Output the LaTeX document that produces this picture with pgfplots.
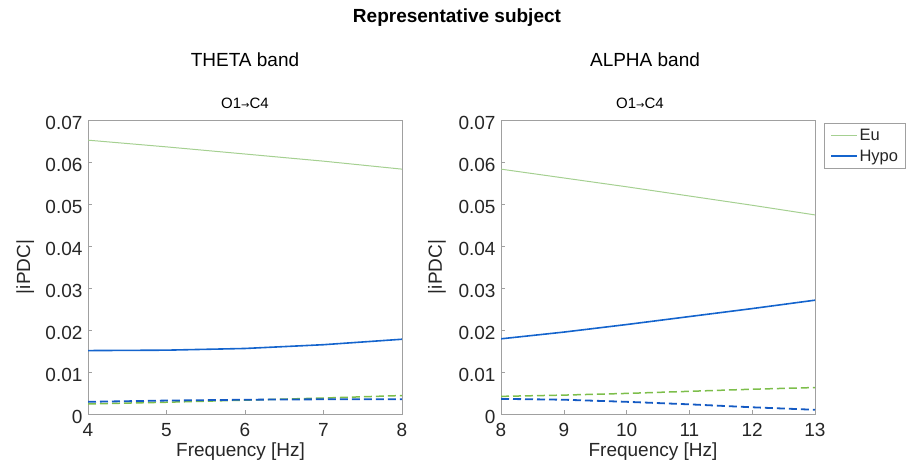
\documentclass[border=0pt]{standalone}
\usepackage{fontspec}
\setmainfont{Liberation Sans}
\newfontfamily\symfont{DejaVu Sans}
\usepackage{pgfplots}
\pgfplotsset{compat=1.18}

\definecolor{euline}{RGB}{165,208,145}
\definecolor{eudash}{RGB}{125,190,75}
\definecolor{hypoline}{RGB}{20,100,205}
\definecolor{hypodash}{RGB}{20,90,195}
\definecolor{boxgray}{RGB}{160,160,160}

\newcommand{\fs}{\fontsize{19bp}{22bp}\selectfont}
\newcommand{\pair}{{\fontsize{15bp}{17bp}\selectfont O1{\symfont\fontsize{10bp}{12bp}\selectfont→}C4}}

\pgfplotsset{
  ipdc/.style={
    scale only axis, width=314bp, height=294bp,
    axis line style={boxgray, line width=0.8bp},
    tick style={boxgray, line width=0.6bp},
    tick align=inside, major tick length=4bp,
    xtick pos=bottom, ytick pos=left,
    ymin=0, ymax=0.07, scaled y ticks=false,
    ytick={0,0.01,0.02,0.03,0.04,0.05,0.06,0.07},
    yticklabels={0,0.01,0.02,0.03,0.04,0.05,0.06,0.07},
    /pgf/number format/assume math mode=true,
    ticklabel style={font=\fs, text=black!85},
    yticklabel style={xshift=-2bp, yshift=-3bp},
    xticklabel style={yshift=-6bp},
    label style={font=\fs, text=black!85},
    ylabel={|iPDC|},
    xlabel={Frequency [Hz]},
  },
  eu/.style={euline, line width=1bp},
  hypo/.style={hypoline, line width=1.6bp},
  eud/.style={eudash, line width=1.5bp, dash pattern=on 8bp off 4bp},
  hypod/.style={hypodash, line width=1.8bp, dash pattern=on 8bp off 4bp},
}

\begin{document}
\begin{tikzpicture}
\useasboundingbox (0,0) rectangle (914bp,467bp);

\node[font=\bfseries\fontsize{19bp}{22bp}\selectfont] at (457bp,449bp) {Representative subject};
\node[font=\fs] at (245bp,407bp) {THETA band};
\node[font=\fs] at (645bp,407bp) {ALPHA band};
\node at (245bp,364bp) {\pair};
\node at (640bp,364bp) {\pair};

\begin{axis}[ipdc, at={(88bp,53bp)}, anchor=south west,
  xmin=4, xmax=8, xtick={4,5,6,7,8},
  ylabel style={at={(axis description cs:-0.2,0.5)}, anchor=center},
  xlabel style={at={(axis description cs:0.486,-0.129)}, anchor=center},
]
\addplot[eu] coordinates {(4,0.0652) (5,0.0636) (6,0.0619) (7,0.0602) (8,0.0583)};
\addplot[hypo] coordinates {(4,0.0151) (5,0.0152) (6,0.0156) (7,0.0165) (8,0.0178)};
\addplot[eud] coordinates {(4,0.0024) (5,0.0028) (6,0.0033) (7,0.0038) (8,0.0044)};
\addplot[hypod] coordinates {(4,0.0029) (5,0.0032) (6,0.0034) (7,0.0035) (8,0.0035)};
\end{axis}

\begin{axis}[ipdc, at={(501bp,53bp)}, anchor=south west,
  xmin=8, xmax=13, xtick={8,9,10,11,12,13},
  ylabel style={at={(axis description cs:-0.204,0.5)}, anchor=center},
  xlabel style={at={(axis description cs:0.484,-0.129)}, anchor=center},
  legend style={at={(1.0287,0.9898)}, anchor=north west,
    draw=boxgray, line width=0.8bp,
    font=\fontsize{16.5bp}{19bp}\selectfont, text=black!85,
    inner xsep=6bp, inner ysep=4bp, row sep=5bp,
    nodes={inner sep=1.5bp},
    cells={anchor=west}},
  legend image code/.code={\draw[#1] (0bp,0bp) -- (26bp,0bp);},
]
\addplot[eu] coordinates {(8,0.0583) (9,0.0562) (10,0.0541) (11,0.0519) (12,0.0497) (13,0.0474)};
\addlegendentry{Eu}
\addplot[hypo] coordinates {(8,0.0179) (9,0.0195) (10,0.0213) (11,0.0232) (12,0.0251) (13,0.0271)};
\addlegendentry{Hypo}
\addplot[eud, forget plot] coordinates {(8,0.0042) (9,0.0045) (10,0.0049) (11,0.0054) (12,0.0059) (13,0.0063)};
\addplot[hypod, forget plot] coordinates {(8,0.0036) (9,0.0034) (10,0.0029) (11,0.0023) (12,0.0016) (13,0.0010)};
\end{axis}
\end{tikzpicture}
\end{document}
